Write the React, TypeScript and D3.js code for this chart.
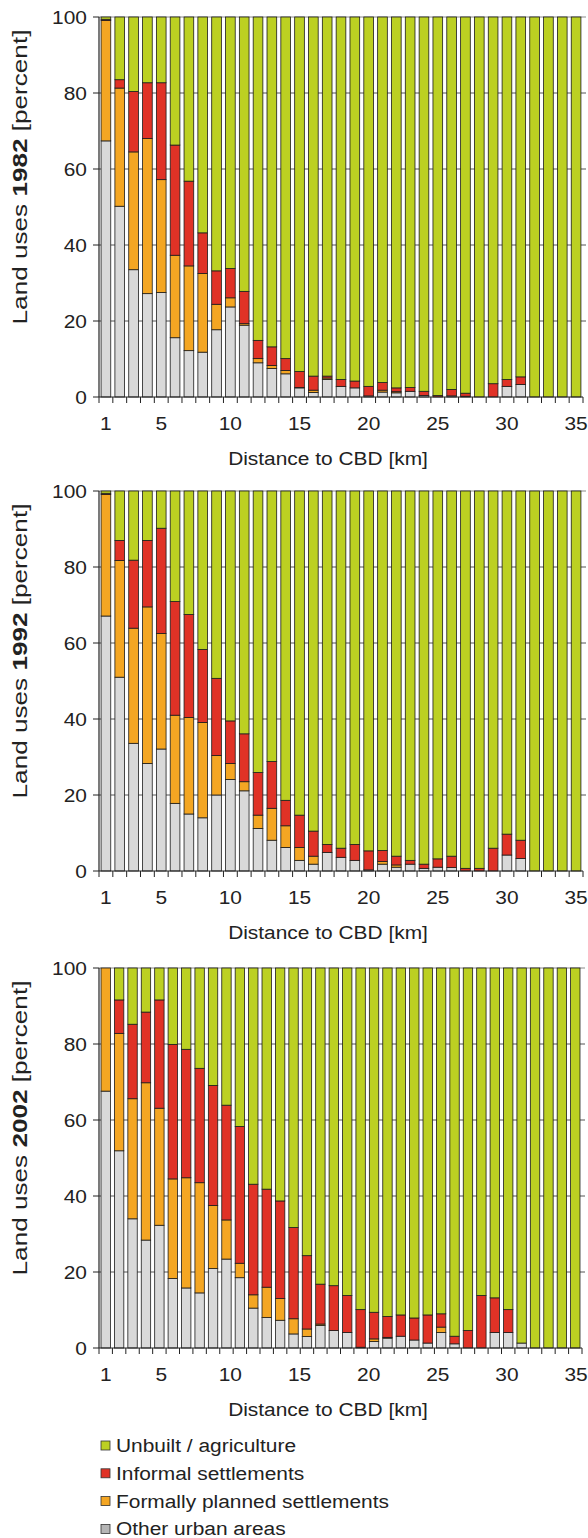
import React from "react";
import * as d3 from "d3";

// distance classes (km)
const dist35 = [1, 2, 3, 4, 5, 6, 7, 8, 9, 10, 11, 12, 13, 14, 15, 16, 17, 18, 19, 20, 21, 22, 23, 24, 25, 26, 27, 28, 29, 30, 31, 32, 33, 34, 35];
const dist36 = [1, 2, 3, 4, 5, 6, 7, 8, 9, 10, 11, 12, 13, 14, 15, 16, 17, 18, 19, 20, 21, 22, 23, 24, 25, 26, 27, 28, 29, 30, 31, 32, 33, 34, 35, 36];
const tickLabels = [1, 5, 10, 15, 20, 25, 30, 35];
const yTicks = [0, 20, 40, 60, 80, 100];

// 1982
const other1982 = [67.4, 50.2, 33.5, 27.2, 27.5, 15.6, 12.2, 11.8, 17.7, 23.7, 18.9, 9.0, 7.5, 6.1, 2.4, 1.2, 4.6, 2.8, 2.4, 0.3, 1.3, 1.1, 1.5, 0.4, 0, 0.3, 0.2, 0, 0, 2.8, 3.3, 0, 0, 0, 0];
const formal1982 = [31.7, 31.1, 31.0, 40.8, 29.7, 21.7, 22.3, 20.7, 6.7, 2.4, 0.4, 1.1, 0.8, 0.9, 0.1, 0.6, 0.4, 0, 0, 0, 0.5, 0.3, 0, 0, 0, 0, 0, 0, 0, 0, 0, 0, 0, 0, 0];
const informal1982 = [0.3, 2.2, 15.9, 14.7, 25.5, 29.0, 22.3, 10.7, 8.8, 7.7, 8.5, 4.8, 4.9, 3.1, 4.2, 3.7, 0.5, 1.8, 1.8, 2.5, 2.0, 1.0, 1.0, 1.1, 0.4, 1.7, 0.8, 0, 3.5, 1.8, 2.0, 0, 0, 0, 0];

// 1992
const other1992 = [67.1, 51.0, 33.6, 28.3, 32.1, 17.8, 15.0, 14.0, 20.0, 24.1, 21.1, 11.2, 8.1, 6.2, 2.8, 1.8, 4.9, 3.6, 2.8, 0.3, 1.8, 1.0, 1.8, 0.7, 1.0, 0.9, 0, 0, 0, 4.2, 3.3, 0, 0, 0, 0];
const formal1992 = [32.0, 30.7, 30.3, 41.2, 30.4, 23.2, 25.4, 25.1, 10.4, 4.2, 2.4, 3.5, 8.4, 5.7, 3.4, 2.1, 0, 0, 0, 0, 0.7, 0.6, 0, 0, 0, 0, 0, 0, 0, 0, 0, 0, 0, 0, 0];
const informal1992 = [0.3, 5.3, 17.9, 17.5, 27.7, 29.9, 27.1, 19.2, 20.3, 11.2, 12.6, 11.2, 12.3, 6.7, 8.5, 6.6, 2.1, 2.4, 4.2, 5.0, 2.9, 2.3, 1.0, 1.1, 2.2, 3.0, 0.7, 0.7, 6.0, 5.5, 4.8, 0, 0, 0, 0];

// 2002
const other2002 = [67.6, 51.9, 34.0, 28.4, 32.3, 18.3, 15.8, 14.5, 20.9, 23.4, 18.5, 10.5, 8.0, 7.3, 3.7, 3.0, 5.9, 4.6, 4.1, 0.2, 1.7, 2.6, 3.1, 2.1, 1.3, 4.1, 1.1, 0, 0, 4.1, 4.1, 1.3, 0, 0, 0, 0];
const formal2002 = [32.4, 30.9, 31.6, 41.4, 30.8, 26.2, 29.0, 29.0, 16.6, 10.3, 3.8, 3.5, 8.0, 5.7, 4.0, 2.0, 0.4, 0, 0, 0, 0.7, 0.2, 0, 0, 0, 1.4, 0, 0, 0, 0, 0, 0, 0, 0, 0, 0];
const informal2002 = [0, 8.8, 19.6, 18.6, 28.5, 35.4, 33.8, 30.1, 31.6, 30.2, 36.0, 29.1, 25.8, 25.7, 24.0, 19.3, 10.5, 11.8, 9.7, 9.9, 7.0, 5.5, 5.6, 5.8, 7.4, 3.5, 2.0, 4.6, 13.8, 9.1, 6.0, 0, 0, 0, 0, 0];

const keys = ["other", "formal", "informal", "unbuilt"];
const colors: Record<string, string> = {
  unbuilt: "#bcd022",
  informal: "#e03226",
  formal: "#f4a623",
  other: "#d9d9d9",
};
const legendItems = [
  { key: "unbuilt", label: "Unbuilt / agriculture", swatch: "#bcd022" },
  { key: "informal", label: "Informal settlements", swatch: "#e03226" },
  { key: "formal", label: "Formally planned settlements", swatch: "#f4a623" },
  { key: "other", label: "Other urban areas", swatch: "#b5b5b5" },
];

const font = "'Liberation Sans', Arial, Helvetica, sans-serif";
const fs = 19;
const stretch = 1.1;

const left = 99;

function Panel({ year, dist, other, formal, informal, top, right }) {
  const bottom = top + 380;
  const rows = dist.map((d, i) => ({
    dist: String(d),
    other: other[i],
    formal: formal[i],
    informal: informal[i],
    unbuilt: Math.max(0, 100 - other[i] - formal[i] - informal[i]),
  }));
  const series = d3.stack().keys(keys)(rows as any);

  const x = d3
    .scaleBand()
    .domain(dist.map(String))
    .range([left, right])
    .paddingInner(0.3)
    .paddingOuter(0.15);
  const labelX = d3.scaleBand().domain(dist35.map(String)).range([left, 583]);
  const y = d3.scaleLinear().domain([0, 100]).range([bottom, top]);

  const step = x.step();
  const boundaries = d3.range(dist.length + 1).map((i) => left + i * step);

  return (
    <g>
      {/* gridlines */}
      {yTicks.filter((t) => t > 0).map((t) => (
        <line key={t} x1={left} x2={right + 3} y1={y(t)} y2={y(t)}
          stroke={t === 100 ? "#8a8a8a" : "#555"} strokeWidth={1} />
      ))}
      {/* bars */}
      {series.map((s) => (
        <g key={s.key} fill={colors[s.key]}>
          {s.map((d, i) => {
            const h = y(d[0]) - y(d[1]);
            if (h <= 0.01) return null;
            return (
              <rect key={i} x={x(d.data.dist as any)} y={y(d[1])} width={x.bandwidth()} height={h}
                stroke="#1c1c1c" strokeWidth={0.8} />
            );
          })}
        </g>
      ))}
      {/* y axis */}
      <line x1={left} x2={left} y1={y(0)} y2={y(100)} stroke="#222" strokeWidth={1.2} />
      {yTicks.map((t) => (
        <g key={t}>
          <line x1={left - 6} x2={left} y1={y(t)} y2={y(t)} stroke="#222" strokeWidth={1} />
          <text transform={`translate(${left - 12},${y(t)}) scale(${stretch},1)`} textAnchor="end" dy="0.35em"
            fontFamily={font} fontSize={fs} fill="#222">{t}</text>
        </g>
      ))}
      {/* x axis */}
      <line x1={left} x2={right} y1={y(0)} y2={y(0)} stroke="#222" strokeWidth={1.2} />
      {boundaries.map((b, i) => (
        <line key={i} x1={b} x2={b} y1={y(0)} y2={y(0) + 6} stroke="#222" strokeWidth={1} />
      ))}
      {tickLabels.map((t) => (
        <text key={t} transform={`translate(${labelX(String(t))! + labelX.bandwidth() / 2},${y(0) + 33}) scale(${stretch},1)`}
          textAnchor="middle" fontFamily={font} fontSize={fs} fill="#222">{t}</text>
      ))}
      <text transform={`translate(328,${y(0) + 68}) scale(${stretch},1)`} textAnchor="middle"
        fontFamily={font} fontSize={fs} fill="#222">Distance to CBD [km]</text>
      <text transform={`translate(27,${(top + bottom) / 2 - 30}) rotate(-90) scale(1.34,1)`} textAnchor="middle"
        fontFamily={font} fontSize={19.5} fill="#222">
        Land uses <tspan fontWeight="bold">{year}</tspan> [percent]
      </text>
    </g>
  );
}

export default function App() {
  return (
    <svg width={588} height={1538} style={{ position: "absolute", left: 0, top: 0, background: "#fff" }}>
      <rect width={588} height={1538} fill="#fff" />
      <Panel year="1982" dist={dist35} other={other1982} formal={formal1982} informal={informal1982} top={17} right={583} />
      <Panel year="1992" dist={dist35} other={other1992} formal={formal1992} informal={informal1992} top={491} right={583} />
      <Panel year="2002" dist={dist36} other={other2002} formal={formal2002} informal={informal2002} top={968} right={582} />
      <g>
        {legendItems.map((it, i) => {
          const base = 1452 + i * 27.8;
          return (
            <g key={it.key}>
              <rect x={101} y={base - 11} width={9} height={9} fill={it.swatch} stroke="#333" strokeWidth={0.8} />
              <text transform={`translate(116,${base}) scale(${stretch},1)`} fontFamily={font} fontSize={fs} fill="#222">
                {it.label}
              </text>
            </g>
          );
        })}
      </g>
    </svg>
  );
}
